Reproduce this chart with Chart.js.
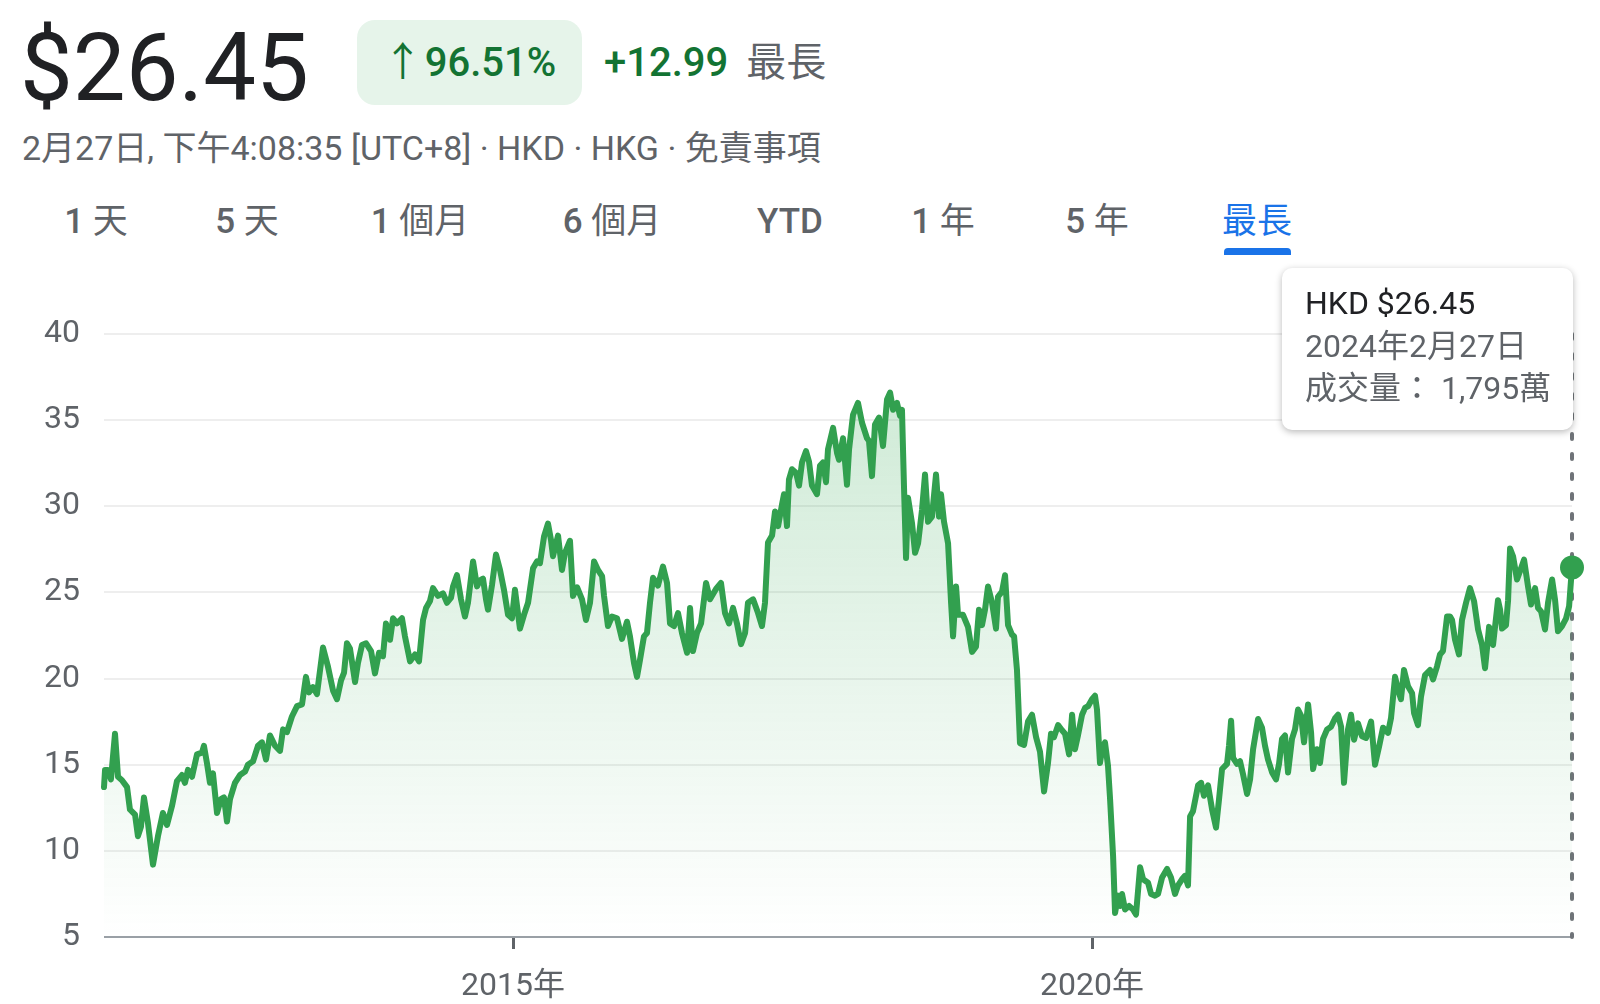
<!DOCTYPE html>
<html>
<head>
<meta charset="utf-8">
<title>最長</title>
<script src="https://cdn.jsdelivr.net/npm/chart.js@4.4.1/dist/chart.umd.min.js"></script>
<style>
  body { margin: 0; width: 1600px; height: 1004px; overflow: hidden; background: #fff;
         font-family: Roboto, "Noto Sans CJK TC", sans-serif; }
  .abs { position: absolute; white-space: nowrap; line-height: 1; }
  #price { left: 20px; top: 21px; font-size: 94px; color: #202124; }
  #pill { left: 357px; top: 20px; width: 225px; height: 85px; border-radius: 18px; background: #e6f4ea;
          color: #137333; font-size: 40px; font-weight: 500; display: flex; align-items: center; justify-content: center; }
  #pill span { font-weight: 400; margin-right: 2px; }
  #change { left: 604px; top: 43px; font-size: 40px; color: #137333; font-weight: 500; }
  #change span { color: #5f6368; font-weight: 400; margin-left: 18px; }
  #sub { left: 22px; top: 131px; font-size: 34px; color: #5f6368; }
  .tab { top: 204px; font-size: 35px; color: #5f6368; font-weight: 500; transform: translateX(-50%); }
  .tab span { font-weight: 400; }
  .tab.on { color: #1a73e8; }
  #bar { position: absolute; left: 1224px; top: 248px; width: 67px; height: 7px; background: #1a73e8; border-radius: 4px 4px 0 0; }
  #chart { position: absolute; left: 0; top: 290px; }
  #tip { position: absolute; left: 1282px; top: 268px; width: 291px; height: 162px; background: #fff; border-radius: 10px;
         box-shadow: 0 2px 7px rgba(0,0,0,0.28); z-index: 2; }
  #tip div { position: absolute; left: 23px; font-size: 32px; line-height: 1; white-space: nowrap; color: #5f6368; }
</style>
</head>
<body>
<div class="abs" id="price">$26.45</div>
<div class="abs" id="pill"><span>↑</span>96.51%</div>
<div class="abs" id="change">+12.99<span>最長</span></div>
<div class="abs" id="sub">2月27日, 下午4:08:35 [UTC+8] · HKD · HKG · 免責事項</div>

<div class="abs tab" style="left:96px">1 <span>天</span></div>
<div class="abs tab" style="left:247px">5 <span>天</span></div>
<div class="abs tab" style="left:420px">1 <span>個月</span></div>
<div class="abs tab" style="left:612px">6 <span>個月</span></div>
<div class="abs tab" style="left:790px">YTD</div>
<div class="abs tab" style="left:943px">1 <span>年</span></div>
<div class="abs tab" style="left:1097px">5 <span>年</span></div>
<div class="abs tab on" style="left:1257px"><span>最長</span></div>
<div id="bar"></div>

<canvas id="chart" width="1600" height="714"></canvas>

<div id="tip">
  <div style="top:19px;color:#202124">HKD $26.45</div>
  <div style="top:62px">2024年2月27日</div>
  <div style="top:104px">成交量： 1,795萬</div>
</div>

<script>
// decimal years
const years = [
  2011.468,2011.477,2011.502,2011.528,2011.563,2011.589,2011.623,2011.667,2011.692,2011.736,
  2011.761,2011.787,2011.813,2011.848,2011.891,2011.934,2011.977,2012.012,2012.055,2012.098,
  2012.141,2012.167,2012.193,2012.228,2012.271,2012.314,2012.331,2012.357,2012.383,2012.409,
  2012.444,2012.478,2012.504,2012.530,2012.556,2012.599,2012.642,2012.686,2012.711,2012.755,
  2012.798,2012.832,2012.867,2012.901,2012.945,2012.988,2013.014,2013.048,2013.091,2013.135,
  2013.178,2013.212,2013.238,2013.273,2013.307,2013.359,2013.402,2013.446,2013.480,2013.515,
  2013.541,2013.566,2013.592,2013.636,2013.661,2013.696,2013.731,2013.774,2013.808,2013.843,
  2013.877,2013.903,2013.938,2013.964,2013.998,2014.041,2014.067,2014.111,2014.154,2014.188,
  2014.223,2014.249,2014.283,2014.309,2014.352,2014.395,2014.430,2014.465,2014.482,2014.516,
  2014.551,2014.585,2014.611,2014.655,2014.689,2014.715,2014.741,2014.767,2014.784,2014.819,
  2014.853,2014.888,2014.922,2014.957,2014.991,2015.017,2015.060,2015.095,2015.130,2015.173,
  2015.207,2015.233,2015.268,2015.302,2015.328,2015.345,2015.389,2015.423,2015.449,2015.492,
  2015.518,2015.553,2015.596,2015.630,2015.665,2015.700,2015.734,2015.769,2015.786,2015.820,
  2015.855,2015.898,2015.941,2015.984,2016.010,2016.045,2016.071,2016.097,2016.131,2016.157,
  2016.183,2016.209,2016.252,2016.295,2016.330,2016.356,2016.390,2016.425,2016.459,2016.503,
  2016.529,2016.554,2016.589,2016.624,2016.667,2016.701,2016.753,2016.796,2016.831,2016.865,
  2016.900,2016.934,2016.969,2017.004,2017.029,2017.073,2017.116,2017.150,2017.176,2017.202,
  2017.237,2017.263,2017.289,2017.323,2017.340,2017.366,2017.383,2017.409,2017.444,2017.470,
  2017.496,2017.530,2017.556,2017.582,2017.625,2017.651,2017.677,2017.703,2017.720,2017.764,
  2017.798,2017.815,2017.850,2017.884,2017.902,2017.936,2017.979,2018.014,2018.057,2018.074,
  2018.100,2018.126,2018.161,2018.195,2018.230,2018.256,2018.282,2018.316,2018.342,2018.359,
  2018.377,2018.394,2018.411,2018.446,2018.472,2018.498,2018.532,2018.558,2018.584,2018.618,
  2018.653,2018.679,2018.696,2018.722,2018.757,2018.783,2018.800,2018.826,2018.843,2018.886,
  2018.929,2018.964,2018.998,2019.024,2019.050,2019.076,2019.102,2019.137,2019.171,2019.188,
  2019.223,2019.249,2019.275,2019.309,2019.327,2019.352,2019.378,2019.413,2019.447,2019.482,
  2019.517,2019.551,2019.586,2019.620,2019.646,2019.672,2019.707,2019.741,2019.767,2019.802,
  2019.828,2019.853,2019.879,2019.914,2019.940,2019.966,2020.000,2020.026,2020.043,2020.069,
  2020.087,2020.112,2020.138,2020.156,2020.182,2020.199,2020.225,2020.242,2020.259,2020.285,
  2020.320,2020.354,2020.380,2020.415,2020.441,2020.484,2020.510,2020.544,2020.570,2020.605,
  2020.648,2020.682,2020.717,2020.743,2020.777,2020.803,2020.829,2020.847,2020.872,2020.916,
  2020.942,2020.967,2021.002,2021.037,2021.071,2021.097,2021.123,2021.166,2021.183,2021.201,
  2021.218,2021.252,2021.278,2021.304,2021.339,2021.365,2021.391,2021.434,2021.468,2021.494,
  2021.520,2021.555,2021.589,2021.615,2021.641,2021.667,2021.693,2021.727,2021.753,2021.779,
  2021.805,2021.831,2021.866,2021.892,2021.909,2021.943,2021.969,2021.995,2022.030,2022.064,
  2022.099,2022.125,2022.151,2022.176,2022.211,2022.237,2022.263,2022.297,2022.332,2022.366,
  2022.410,2022.444,2022.479,2022.513,2022.556,2022.582,2022.617,2022.643,2022.668,2022.694,
  2022.729,2022.764,2022.781,2022.815,2022.841,2022.876,2022.919,2022.945,2022.979,2023.005,
  2023.031,2023.066,2023.092,2023.109,2023.135,2023.169,2023.195,2023.230,2023.264,2023.299,
  2023.334,2023.368,2023.394,2023.429,2023.463,2023.506,2023.524,2023.541,2023.575,2023.593,
  2023.610,2023.636,2023.670,2023.705,2023.731,2023.765,2023.791,2023.826,2023.852,2023.878,
  2023.912,2023.938,2023.973,2023.999,2024.024,2024.059,2024.094,2024.120,2024.137,2024.145
];

// HKD closing price
const prices = [
  13.7,14.7,14.7,14.15,16.8,14.3,14.1,13.7,12.4,12.1,
  10.85,11.4,13.1,11.6,9.2,10.85,12.2,11.5,12.6,14.05,
  14.4,13.95,14.7,14.3,15.6,15.7,16.1,15.1,13.95,14.5,
  12.2,13.0,13.1,11.7,13.0,13.95,14.4,14.6,15.0,15.2,
  16.1,16.3,15.3,16.7,16.1,15.8,17.05,16.9,17.8,18.4,
  18.5,20.1,19.2,19.5,19.1,21.8,20.7,19.3,18.8,19.9,
  20.35,22.05,21.75,19.8,20.9,21.95,22.05,21.6,20.3,21.5,
  21.3,23.2,22.25,23.5,23.2,23.5,22.45,21.0,21.4,21.0,
  23.4,24.1,24.5,25.25,24.8,24.95,24.4,24.7,25.35,26.0,
  24.6,23.6,24.4,26.8,25.35,25.7,25.8,24.6,24.0,25.45,
  27.2,26.3,25.15,23.7,23.5,25.15,22.9,23.7,24.4,26.4,
  26.8,26.7,28.25,29.0,28.05,27.1,28.3,26.3,27.3,28.0,
  24.8,25.3,24.6,23.4,24.4,26.8,26.3,25.95,24.8,23.05,
  23.6,23.5,22.3,23.3,22.45,20.9,20.1,21.1,22.45,22.65,
  24.4,25.85,25.4,26.5,25.55,23.2,23.05,23.8,22.65,21.5,
  24.1,21.6,22.65,23.2,25.55,24.6,25.2,25.55,23.8,23.2,
  24.1,23.2,22.0,22.65,24.4,24.6,23.8,23.05,24.4,27.9,
  28.3,29.7,28.85,30.1,30.7,28.85,31.55,32.15,31.95,31.2,
  32.55,33.2,32.6,31.2,30.7,32.35,32.55,31.4,33.3,34.55,
  33.1,32.7,33.95,31.25,33.3,35.3,36.0,34.85,33.95,33.8,
  31.75,34.75,35.15,33.5,36.2,36.6,35.6,36.0,35.25,35.6,
  31.0,27.0,30.5,29.0,27.3,27.85,29.8,31.85,29.1,29.4,
  31.85,29.4,30.7,29.1,27.85,24.4,22.45,25.35,23.7,23.7,
  23.0,21.55,21.85,24.0,23.1,24.0,25.35,24.4,22.9,24.75,
  25.05,26.0,23.1,22.55,22.45,20.5,16.25,16.15,17.5,17.9,
  16.6,15.75,13.45,15.1,16.8,16.6,17.3,17.0,16.8,15.6,
  17.9,15.9,16.7,17.9,18.3,18.4,18.8,19.0,18.2,15.1,
  15.9,16.3,14.95,13.0,9.7,6.4,7.4,6.8,7.5,6.6,
  6.8,6.6,6.3,9.05,8.35,8.15,7.5,7.4,7.5,8.45,
  8.95,8.45,7.5,8.0,8.35,8.55,8.0,12.0,12.3,13.8,
  13.95,13.2,13.8,12.4,11.35,13.0,14.75,15.05,16.1,17.55,
  15.4,15.05,15.2,14.45,13.3,14.15,15.9,17.65,17.15,16.1,
  15.3,14.55,14.15,15.05,16.5,16.7,14.55,16.5,17.05,18.2,
  17.85,16.3,18.5,16.85,14.75,15.9,15.1,16.5,17.05,17.2,
  17.7,17.9,17.2,13.95,17.05,17.9,16.45,17.4,16.65,16.55,
  17.5,15.0,16.05,17.15,16.85,17.7,20.1,19.35,18.8,20.5,
  19.55,19.15,18.0,17.3,18.95,20.2,20.5,19.95,20.7,21.4,
  21.6,23.6,23.6,23.4,22.25,21.4,23.4,24.4,25.25,24.5,
  22.85,21.95,20.6,23.0,21.95,24.55,24.0,22.9,23.1,24.55,
  27.55,27.1,25.75,26.4,26.9,25.35,24.3,25.25,24.1,23.9,
  22.85,24.4,25.75,24.55,22.75,23.05,23.5,24.2,25.75,26.45
];

const yTicks = [5, 10, 15, 20, 25, 30, 35, 40];
const xTickYears = [2015, 2020];
const xTickLabels = ['2015年', '2020年'];

const green = '#32a04f';
const last = prices.length - 1;

// dotted marker line at the selected (last) point, behind the line
const cursorLine = {
  id: 'cursorLine',
  beforeDatasetsDraw(chart) {
    const { ctx, chartArea, scales } = chart;
    const x = scales.x.getPixelForValue(years[last]);
    ctx.save();
    ctx.strokeStyle = '#6f7378';
    ctx.lineWidth = 4;
    ctx.lineCap = 'round';
    ctx.setLineDash([5, 15]);
    ctx.beginPath();
    ctx.moveTo(x, chartArea.top);
    ctx.lineTo(x, chartArea.bottom);
    ctx.stroke();
    ctx.restore();
  }
};

const ctx = document.getElementById('chart').getContext('2d');
new Chart(ctx, {
  type: 'line',
  data: {
    datasets: [{
      data: years.map((yr, i) => ({ x: yr, y: prices[i] })),
      borderColor: green,
      borderWidth: 6,
      borderJoinStyle: 'round',
      borderCapStyle: 'round',
      tension: 0,
      fill: 'start',
      clip: false,
      backgroundColor: (c) => {
        const area = c.chart.chartArea;
        if (!area) return 'rgba(52,168,83,0.1)';
        const g = c.chart.ctx.createLinearGradient(0, area.top, 0, area.bottom);
        g.addColorStop(0, 'rgba(52,168,83,0.26)');
        g.addColorStop(1, 'rgba(52,168,83,0)');
        return g;
      },
      pointRadius: (c) => c.dataIndex === last ? 12 : 0,
      pointBackgroundColor: green,
      pointBorderWidth: 0,
      pointHoverRadius: 0
    }]
  },
  options: {
    responsive: false,
    animation: false,
    events: [],
    layout: { padding: { left: 0, right: 28, top: 44, bottom: 0 }, autoPadding: false },
    plugins: { legend: { display: false }, tooltip: { enabled: false } },
    scales: {
      x: {
        type: 'linear',
        min: years[0],
        max: years[last],
        afterBuildTicks: (s) => { s.ticks = xTickYears.map(v => ({ value: v })); },
        afterFit: (s) => { s.height = 67; },
        ticks: {
          callback: (v) => xTickLabels[xTickYears.indexOf(v)],
          font: { family: 'Roboto, "Noto Sans CJK TC"', size: 32 },
          color: '#5f6368',
          padding: 19,
          maxRotation: 0
        },
        grid: { drawOnChartArea: false, drawTicks: true, tickLength: 12, tickWidth: 3, tickColor: '#5f6368' },
        border: { display: false }
      },
      y: {
        min: 5,
        max: 40,
        afterBuildTicks: (s) => { s.ticks = yTicks.map(v => ({ value: v })); },
        afterFit: (s) => { s.width = 104; },
        ticks: {
          font: { family: 'Roboto', size: 32 },
          color: '#5f6368',
          padding: 24
        },
        grid: {
          drawTicks: false,
          color: (c) => c.tick && c.tick.value === 5 ? '#9aa0a6' : '#eeeeee',
          lineWidth: 2
        },
        border: { display: false }
      }
    }
  },
  plugins: [cursorLine]
});
</script>
</body>
</html>
